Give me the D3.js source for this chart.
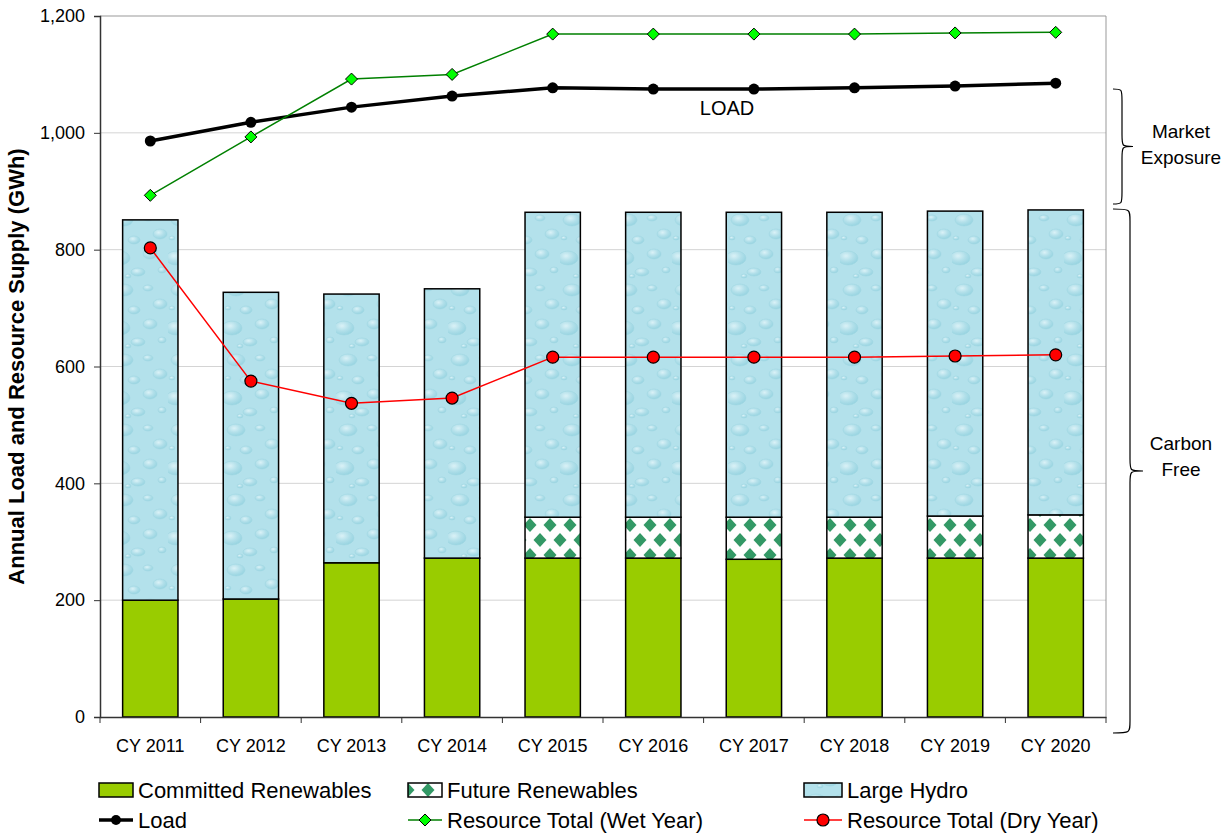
<!DOCTYPE html>
<html>
<head>
<meta charset="utf-8">
<script src="https://cdn.jsdelivr.net/npm/d3@7"></script>
<style>
  body { margin: 0; background: #fff; }
  svg { font-family: Arial, "Liberation Sans", sans-serif; }
</style>
</head>
<body>
<div id="chart"></div>
<script>
// data (GWh)
const years = ["CY 2011", "CY 2012", "CY 2013", "CY 2014", "CY 2015", "CY 2016", "CY 2017", "CY 2018", "CY 2019", "CY 2020"];
const committed = [200, 202, 264, 272, 272, 272, 270, 272, 272, 272];
const future = [0, 0, 0, 0, 70, 70, 72, 70, 72, 74];
const hydro = [651, 525, 460, 461, 522, 522, 522, 522, 522, 522];
const load = [986, 1018, 1044, 1063, 1077, 1075, 1075, 1077, 1080, 1085];
const wetTotal = [893, 993, 1092, 1100, 1169, 1169, 1169, 1169, 1171, 1172];
const dryTotal = [803, 575, 537, 546, 616, 616, 616, 616, 618, 620];
const yTicks = [0, 200, 400, 600, 800, 1000, 1200];

const width = 1228, height = 835;
const plotL = 100, plotR = 1106, plotT = 16, plotB = 717;
const fontFam = 'Arial, "Liberation Sans", sans-serif';

const svg = d3.select('#chart').append('svg')
  .attr('width', width)
  .attr('height', height);

const defs = svg.append('defs');

// water drop texture for Large Hydro
const drop = defs.append('radialGradient').attr('id', 'dropGrad')
  .attr('cx', '40%').attr('cy', '35%').attr('r', '70%');
drop.append('stop').attr('offset', '0%').attr('stop-color', '#e4f6fa');
drop.append('stop').attr('offset', '50%').attr('stop-color', '#b2e0ea');
drop.append('stop').attr('offset', '100%').attr('stop-color', '#8ccfdd');

const water = defs.append('pattern').attr('id', 'water')
  .attr('patternUnits', 'userSpaceOnUse')
  .attr('width', 56).attr('height', 70);
water.append('rect').attr('width', 56).attr('height', 70).attr('fill', '#b3e1eb');
const drops = [[12, 10, 9, 6], [36, 8, 5, 3], [48, 24, 7, 5], [22, 30, 6, 4], [8, 48, 10, 7], [38, 44, 7, 5], [50, 60, 4, 3], [26, 62, 7, 4], [4, 28, 3, 2], [16, 66, 3, 2]];
drops.forEach(d => {
  water.append('ellipse')
    .attr('cx', d[0]).attr('cy', d[1]).attr('rx', d[2]).attr('ry', d[3])
    .attr('fill', 'url(#dropGrad)')
    .attr('stroke', '#9ad3df').attr('stroke-width', 0.6)
    .attr('opacity', 0.8);
});

// diamond checker for Future Renewables
const diam = defs.append('pattern').attr('id', 'diamonds')
  .attr('patternUnits', 'userSpaceOnUse')
  .attr('width', 20).attr('height', 30);
diam.append('rect').attr('width', 20).attr('height', 30).attr('fill', '#fff');
[[0, 0], [20, 0], [0, 30], [20, 30], [10, 15]].forEach(c => {
  diam.append('path')
    .attr('d', `M${c[0]},${c[1] - 7}L${c[0] + 6.5},${c[1]}L${c[0]},${c[1] + 7}L${c[0] - 6.5},${c[1]}Z`)
    .attr('fill', '#339966');
});

const x = d3.scaleBand().domain(years).range([plotL, plotR]).paddingInner(0.45).paddingOuter(0.225);
const y = d3.scaleLinear().domain([0, 1200]).range([plotB, plotT]);
const cx = d => x(d) + x.bandwidth() / 2;

// gridlines
svg.append('g').selectAll('line')
  .data(yTicks.filter(t => t > 0))
  .join('line')
  .attr('x1', plotL).attr('x2', plotR)
  .attr('y1', d => y(d)).attr('y2', d => y(d))
  .attr('stroke', d => d === 1200 ? '#999' : '#d4d4d4')
  .attr('stroke-width', 1);

// right border
svg.append('line')
  .attr('x1', plotR).attr('x2', plotR).attr('y1', plotT).attr('y2', plotB)
  .attr('stroke', '#999');

// stacked bars
const stackData = years.map((yr, i) => ({ year: yr, committed: committed[i], future: future[i], hydro: hydro[i] }));
const series = d3.stack().keys(['committed', 'future', 'hydro'])(stackData);
const fills = { committed: '#99cc00', future: 'url(#diamonds)', hydro: 'url(#water)' };

svg.append('g').selectAll('g')
  .data(series)
  .join('g')
  .attr('fill', d => fills[d.key])
  .selectAll('rect')
  .data(d => d.filter(p => p[1] > p[0]))
  .join('rect')
  .attr('x', d => x(d.data.year))
  .attr('width', x.bandwidth())
  .attr('y', d => y(d[1]))
  .attr('height', d => y(d[0]) - y(d[1]))
  .attr('stroke', '#000')
  .attr('stroke-width', 1.5);

// axes
const yAxis = svg.append('g')
  .attr('transform', `translate(${plotL},0)`)
  .call(d3.axisLeft(y).tickValues(yTicks).tickSize(6).tickPadding(9).tickFormat(d3.format(',')));
yAxis.select('.domain').attr('stroke', '#333').attr('stroke-width', 1.5);
yAxis.selectAll('.tick line').attr('stroke', '#333');
yAxis.selectAll('text').attr('font-size', 18).attr('fill', '#000').attr('font-family', fontFam);

const xAxis = svg.append('g')
  .attr('transform', `translate(0,${plotB})`)
  .call(d3.axisBottom(x).tickSize(0));
xAxis.select('.domain').attr('stroke', '#333').attr('stroke-width', 1.5);
xAxis.selectAll('text')
  .attr('dy', null).attr('y', 35)
  .attr('font-size', 18).attr('fill', '#000').attr('font-family', fontFam);
// ticks between categories
xAxis.selectAll('.sep')
  .data(d3.range(years.length + 1))
  .join('line')
  .attr('class', 'sep')
  .attr('x1', i => plotL + i * x.step())
  .attr('x2', i => plotL + i * x.step())
  .attr('y1', 0).attr('y2', 6)
  .attr('stroke', '#333');

svg.append('text')
  .attr('transform', `translate(24,${(plotT + plotB) / 2}) rotate(-90)`)
  .attr('text-anchor', 'middle')
  .attr('font-size', 22)
  .attr('font-weight', 'bold')
  .text('Annual Load and Resource Supply (GWh)');

// lines
const line = arr => d3.line().x((d, i) => cx(years[i])).y(d => y(d))(arr);

svg.append('path').attr('d', line(dryTotal))
  .attr('fill', 'none').attr('stroke', '#ff0000').attr('stroke-width', 1.5);
svg.append('g').selectAll('circle').data(dryTotal).join('circle')
  .attr('cx', (d, i) => cx(years[i])).attr('cy', d => y(d)).attr('r', 6)
  .attr('fill', '#ff0000').attr('stroke', '#000').attr('stroke-width', 1.2);

svg.append('path').attr('d', line(load))
  .attr('fill', 'none').attr('stroke', '#000').attr('stroke-width', 3.5);
svg.append('g').selectAll('circle').data(load).join('circle')
  .attr('cx', (d, i) => cx(years[i])).attr('cy', d => y(d)).attr('r', 5.5)
  .attr('fill', '#000');

svg.append('path').attr('d', line(wetTotal))
  .attr('fill', 'none').attr('stroke', '#008000').attr('stroke-width', 1.5);
svg.append('g').selectAll('path').data(wetTotal).join('path')
  .attr('transform', (d, i) => `translate(${cx(years[i])},${y(d)})`)
  .attr('d', 'M0,-6L6,0L0,6L-6,0Z')
  .attr('fill', '#00ff00').attr('stroke', '#000').attr('stroke-width', 1);

svg.append('text')
  .attr('x', 727).attr('y', 115)
  .attr('text-anchor', 'middle')
  .attr('font-size', 20)
  .text('LOAD');

// braces on the right
function brace(x0, y0, y1, w, tip) {
  const ym = (y0 + y1) / 2;
  const c = 12;
  const xv = x0 + w;
  return `M${x0},${y0} C${xv},${y0} ${xv},${y0} ${xv},${y0 + c}` +
    ` L${xv},${ym - c} C${xv},${ym} ${xv},${ym} ${x0 + tip},${ym}` +
    ` C${xv},${ym} ${xv},${ym} ${xv},${ym + c}` +
    ` L${xv},${y1 - c} C${xv},${y1} ${xv},${y1} ${x0},${y1}`;
}
svg.append('path').attr('d', brace(1113, 89, 204, 9, 20))
  .attr('fill', 'none').attr('stroke', '#000').attr('stroke-width', 1.2);
svg.append('path').attr('d', brace(1113, 209, 733, 17, 30))
  .attr('fill', 'none').attr('stroke', '#000').attr('stroke-width', 1.2);

const sideText = [["Market", 138], ["Exposure", 164], ["Carbon", 450], ["Free", 476]];
svg.append('g').selectAll('text').data(sideText).join('text')
  .attr('x', 1181).attr('y', d => d[1])
  .attr('text-anchor', 'middle')
  .attr('font-size', 19)
  .text(d => d[0]);

// legend
const legend = svg.append('g').attr('font-size', 22);
const legendItems = [
  { label: 'Committed Renewables', type: 'box', fill: '#99cc00', x: 99, w: 34, y: 790 },
  { label: 'Future Renewables', type: 'box', fill: 'url(#diamonds)', x: 408, w: 34, y: 790 },
  { label: 'Large Hydro', type: 'box', fill: 'url(#water)', x: 804, w: 38, y: 790 },
  { label: 'Load', type: 'load', x: 99, w: 34, y: 820 },
  { label: 'Resource Total (Wet Year)', type: 'wet', x: 408, w: 34, y: 820 },
  { label: 'Resource Total (Dry Year)', type: 'dry', x: 804, w: 38, y: 820 }
];
legendItems.forEach(it => {
  const g = legend.append('g').attr('transform', `translate(${it.x},${it.y})`);
  if (it.type === 'box') {
    g.append('rect').attr('x', 0).attr('y', -7).attr('width', it.w).attr('height', 14)
      .attr('fill', it.fill).attr('stroke', '#000').attr('stroke-width', 1.5);
  } else if (it.type === 'load') {
    g.append('line').attr('x1', 0).attr('x2', it.w).attr('stroke', '#000').attr('stroke-width', 3.5);
    g.append('circle').attr('cx', it.w / 2).attr('r', 5).attr('fill', '#000');
  } else if (it.type === 'wet') {
    g.append('line').attr('x1', 0).attr('x2', it.w).attr('stroke', '#008000').attr('stroke-width', 1.5);
    g.append('path').attr('transform', `translate(${it.w / 2},0)`).attr('d', 'M0,-6L6,0L0,6L-6,0Z')
      .attr('fill', '#00ff00').attr('stroke', '#000');
  } else {
    g.append('line').attr('x1', 0).attr('x2', it.w).attr('stroke', '#ff0000').attr('stroke-width', 1.5);
    g.append('circle').attr('cx', it.w / 2).attr('r', 6).attr('fill', '#ff0000').attr('stroke', '#000').attr('stroke-width', 1.2);
  }
  g.append('text').attr('x', it.w + 5).attr('y', 8).text(it.label);
});
</script>
</body>
</html>
